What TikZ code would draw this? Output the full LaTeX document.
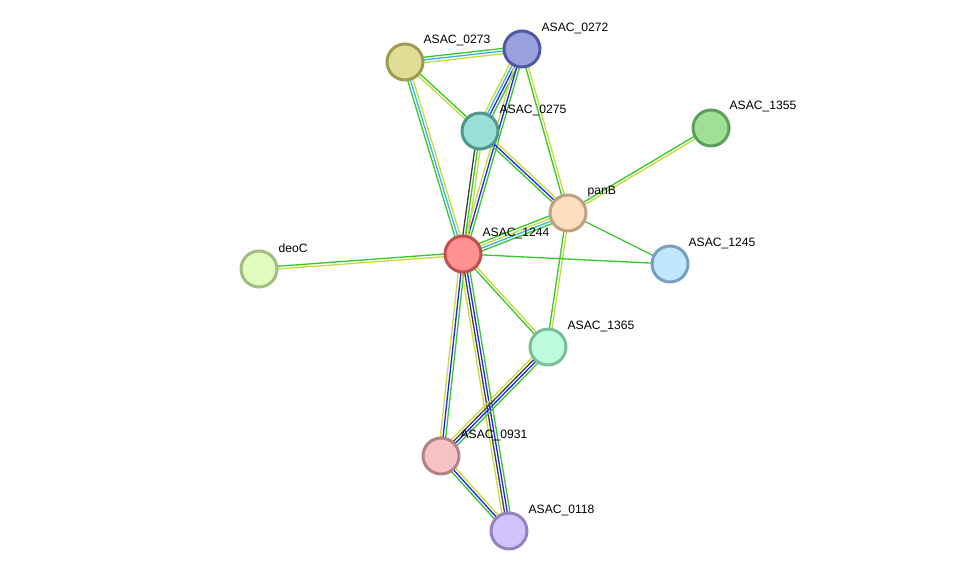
\documentclass[tikz,border=0pt]{standalone}
\usepackage{fontspec}
\setmainfont{Liberation Sans}
\usepackage{tikz}
\usetikzlibrary{calc,backgrounds}

% evidence line colours
\definecolor{evgrn}{RGB}{55,200,45}
\definecolor{evyel}{RGB}{200,218,60}
\definecolor{evcya}{RGB}{55,180,225}
\definecolor{evblu}{RGB}{35,35,250}
\definecolor{evblk}{RGB}{65,65,65}

% one edge = several parallel lines, offsets in units of ~2.7px
\newcommand{\evlink}[3]{%
  \foreach \c/\o in {#3} {\draw[color=\c] ($(#1.center)!\o*0.054cm!90:(#2.center)$) -- ($(#2.center)!\o*0.054cm!-90:(#1.center)$);}}

\begin{document}
\begin{tikzpicture}[x=0.02cm, y=-0.02cm,
  prot/.style={circle, minimum size=0.72cm, inner sep=0pt, line width=1.7pt},
  lab/.style={anchor=west, inner sep=0pt, font=\fontsize{6.9}{8}\selectfont},
  every path/.style={line width=0.75pt}]
	\useasboundingbox (0,0) rectangle (975,577);
	\node[prot, fill={rgb,255:red,224;green,221;blue,150}, draw={rgb,255:red,160;green,155;blue,80}] (n0273) at (405,62) {};
	\node[prot, fill={rgb,255:red,152;green,160;blue,222}, draw={rgb,255:red,80;green,90;blue,160}] (n0272) at (522,49) {};
	\node[prot, fill={rgb,255:red,152;green,224;blue,215}, draw={rgb,255:red,80;green,150;blue,140}] (n0275) at (480,131) {};
	\node[prot, fill={rgb,255:red,160;green,224;blue,150}, draw={rgb,255:red,90;green,160;blue,90}] (n1355) at (711,128) {};
	\node[prot, fill={rgb,255:red,253;green,222;blue,190}, draw={rgb,255:red,190;green,160;blue,130}] (panB) at (568,213) {};
	\node[prot, fill={rgb,255:red,255;green,145;blue,145}, draw={rgb,255:red,190;green,80;blue,80}] (n1244) at (463,254) {};
	\node[prot, fill={rgb,255:red,224;green,253;blue,190}, draw={rgb,255:red,160;green,190;blue,130}] (deoC) at (259,269) {};
	\node[prot, fill={rgb,255:red,190;green,230;blue,253}, draw={rgb,255:red,120;green,160;blue,190}] (n1245) at (670,264) {};
	\node[prot, fill={rgb,255:red,190;green,253;blue,220}, draw={rgb,255:red,120;green,190;blue,150}] (n1365) at (548,347) {};
	\node[prot, fill={rgb,255:red,245;green,195;blue,195}, draw={rgb,255:red,180;green,130;blue,130}] (n0931) at (441,456) {};
	\node[prot, fill={rgb,255:red,210;green,195;blue,253}, draw={rgb,255:red,150;green,130;blue,190}] (n0118) at (509,531) {};
	% labels
	\node[lab] (t0273) at ($(n0273)+(18,-22)$) {ASAC\_0273};
	\node[lab] (t0272) at ($(n0272)+(19,-21)$) {ASAC\_0272};
	\node[lab] (t0275) at ($(n0275)+(19,-21)$) {ASAC\_0275};
	\node[lab] (t1355) at ($(n1355)+(18,-22)$) {ASAC\_1355};
	\node[lab] (tpanB) at ($(panB)+(19,-21)$) {panB};
	\node[lab] (t1244) at ($(n1244)+(19,-21)$) {ASAC\_1244};
	\node[lab] (tdeoC) at ($(deoC)+(19,-21)$) {deoC};
	\node[lab] (t1245) at ($(n1245)+(18,-21)$) {ASAC\_1245};
	\node[lab] (t1365) at ($(n1365)+(19,-21)$) {ASAC\_1365};
	\node[lab] (t0931) at ($(n0931)+(19,-21)$) {ASAC\_0931};
	\node[lab] (t0118) at ($(n0118)+(19,-21)$) {ASAC\_0118};
	% edges
	\begin{scope}[on background layer]
		\evlink{n0273}{n0272}{evyel/-1, evcya/0, evgrn/1}
		\evlink{n0273}{n0275}{evyel/-0.5, evgrn/0.5}
		\evlink{n0273}{n1244}{evyel/1, evcya/0, evgrn/-1}
		\evlink{n0272}{n0275}{evyel/-1.5, evcya/-0.5, evblu/0.5, evgrn/1.5}
		\evlink{n0272}{n1244}{evyel/-1, evblu/0, evgrn/1}
		\evlink{n0272}{panB}{evyel/0.5, evgrn/-0.5}
		\evlink{n0275}{n1244}{evyel/1, evgrn/0, evblk/-1}
		\evlink{n0275}{panB}{evgrn/-1, evblu/0, evyel/1}
		\evlink{n1355}{panB}{evgrn/-0.5, evyel/0.5}
		\evlink{panB}{n1244}{evgrn/-1.5, evyel/-0.5, evcya/0.5, evgrn/1.5}
		\evlink{panB}{n1245}{evgrn/0}
		\evlink{panB}{n1365}{evyel/0.5, evgrn/-0.5}
		\evlink{n1244}{n1245}{evgrn/0}
		\evlink{n1244}{deoC}{evyel/0.5, evgrn/-0.5}
		\evlink{n1244}{n1365}{evgrn/-0.5, evyel/0.5}
		\evlink{n1244}{n0931}{evgrn/1, evblu/0, evyel/-1}
		\evlink{n1244}{n0118}{evgrn/1.5, evblu/0.5, evblk/-0.5, evyel/-1.5}
		\evlink{n1365}{n0931}{evgrn/1.5, evblu/0.5, evblk/-0.5, evyel/-1.5}
		\evlink{n0931}{n0118}{evgrn/-1, evblu/0, evyel/1}
	\end{scope}
\end{tikzpicture}
\end{document}
